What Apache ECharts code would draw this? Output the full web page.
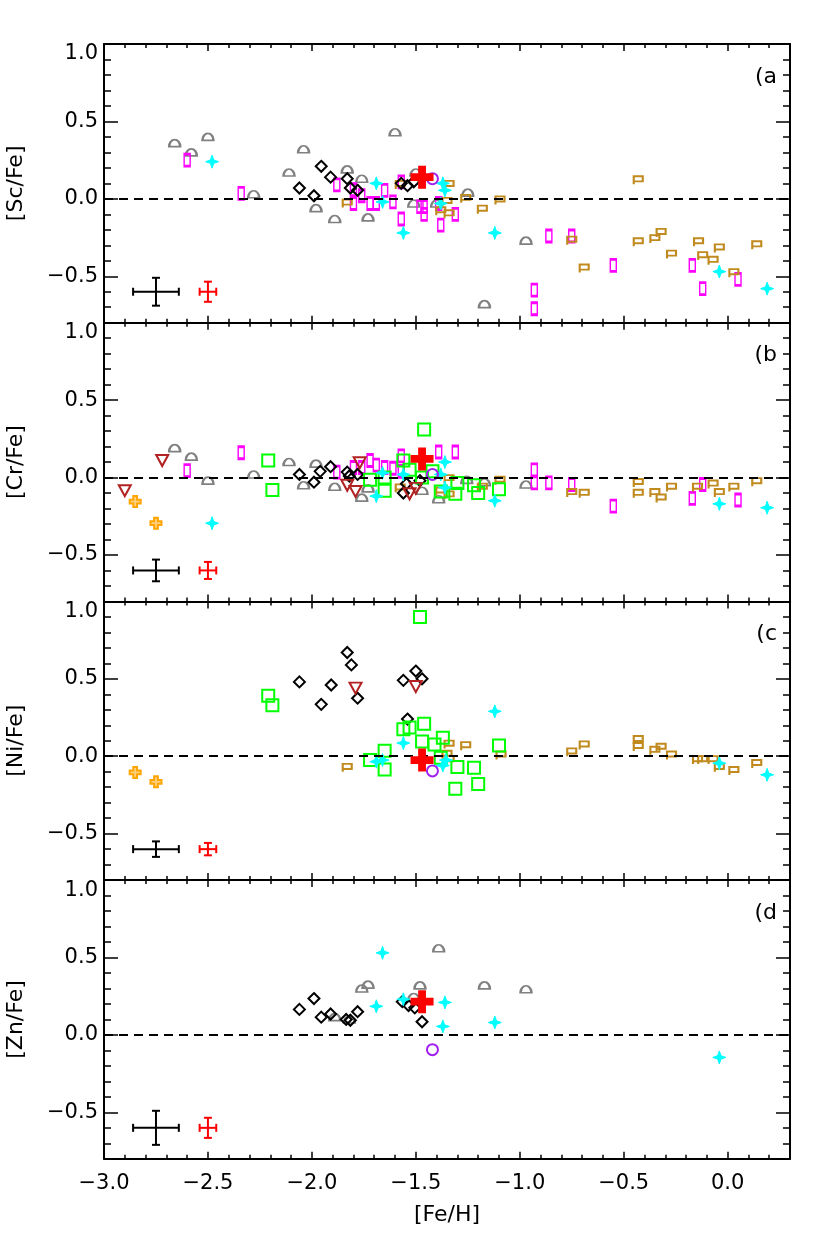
<!DOCTYPE html>
<html>
<head>
<meta charset="utf-8">
<style>
html, body { margin: 0; padding: 0; background: #fff; }
#chart { width: 830px; height: 1247px; }
</style>
<script src="https://cdn.jsdelivr.net/npm/echarts@6/dist/echarts.min.js"></script>
</head>
<body>
<div id="chart"></div>
<script>
// ---- data ----
const panelNames = ['[Sc/Fe]', '[Cr/Fe]', '[Ni/Fe]', '[Zn/Fe]'];
const panelTags = ['(a', '(b', '(c', '(d'];
const xTicks = [-3.0, -2.5, -2.0, -1.5, -1.0, -0.5, 0.0];
const yTicks = [-0.5, 0.0, 0.5, 1.0];

// panel a: [Sc/Fe]
const scHalo = [[-2.66,0.36],[-2.58,0.30],[-2.50,0.40],[-2.28,0.03],[-2.11,0.17],[-2.04,0.32],[-1.98,-0.06],[-1.89,-0.13],[-1.83,0.19],[-1.76,0.13],[-1.73,-0.12],[-1.60,0.43],[-1.50,0.17],[-1.51,-0.03],[-1.40,-0.03],[-1.25,0.04],[-0.97,-0.27],[-1.17,-0.68]];
const scDiamond = [[-2.06,0.07],[-1.99,0.02],[-1.955,0.21],[-1.91,0.14],[-1.83,0.13],[-1.815,0.07],[-1.78,0.055],[-1.57,0.10],[-1.54,0.085],[-1.51,0.11]];
const scThin = [[-2.60,0.25],[-2.34,0.035],[-1.88,0.09],[-1.80,0.06],[-1.80,-0.03],[-1.76,0.02],[-1.72,-0.03],[-1.69,-0.03],[-1.65,0.055],[-1.61,-0.02],[-1.57,-0.13],[-1.57,0.11],[-1.48,-0.05],[-1.46,-0.05],[-1.46,-0.10],[-1.39,-0.03],[-1.38,-0.17],[-1.31,-0.10],[-0.93,-0.59],[-0.93,-0.71],[-0.86,-0.24],[-0.75,-0.24],[-0.55,-0.43],[-0.17,-0.43],[-0.12,-0.58],[0.05,-0.52]];
const scDisk = [[-1.83,-0.03],[-1.575,0.09],[-1.34,0.09],[-1.35,-0.02],[-1.38,-0.08],[-1.34,-0.10],[-1.26,0.0],[-1.18,-0.07],[-1.095,-0.01],[-0.75,-0.27],[-0.69,-0.45],[-0.43,0.12],[-0.43,-0.28],[-0.35,-0.26],[-0.32,-0.22],[-0.27,-0.36],[-0.14,-0.28],[-0.12,-0.37],[-0.07,-0.40],[-0.04,-0.32],[0.03,-0.48],[0.14,-0.30]];
const scStar = [[-2.48,0.24],[-1.69,0.10],[-1.66,-0.02],[-1.56,-0.22],[-1.37,0.10],[-1.36,0.055],[-1.38,-0.03],[-1.12,-0.22],[-0.04,-0.47],[0.19,-0.58]];
const scCircle = [[-1.42,0.13]];
const scTarget = [[-1.47,0.14]];

// panel b: [Cr/Fe]
const crHalo = [[-2.66,0.19],[-2.58,0.135],[-2.50,-0.02],[-2.28,0.02],[-2.11,0.10],[-1.98,0.09],[-2.04,-0.05],[-1.89,-0.06],[-1.76,-0.13],[-1.73,-0.07],[-1.47,-0.085],[-1.39,-0.14],[-1.255,-0.015],[-1.17,-0.03],[-0.97,-0.045]];
const crDiamond = [[-2.06,0.02],[-1.99,-0.03],[-1.96,0.04],[-1.91,0.07],[-1.83,0.035],[-1.82,0.01],[-1.78,0.02],[-1.545,-0.04],[-1.56,-0.10],[-1.48,-0.02]];
const crThin = [[-2.60,0.045],[-2.34,0.16],[-1.88,0.035],[-1.80,0.065],[-1.76,0.065],[-1.72,0.11],[-1.69,0.08],[-1.65,0.065],[-1.61,0.06],[-1.57,0.14],[-1.57,0.04],[-1.39,0.165],[-1.31,0.165],[-0.93,0.05],[-0.93,-0.035],[-0.86,-0.035],[-0.75,-0.045],[-0.55,-0.185],[-0.17,-0.135],[-0.12,-0.045],[0.05,-0.145]];
const crDisk = [[-1.575,-0.07],[-1.38,-0.09],[-1.34,-0.01],[-1.34,-0.115],[-1.18,-0.065],[-1.095,-0.02],[-0.75,-0.10],[-0.69,-0.105],[-0.43,-0.035],[-0.43,-0.105],[-0.35,-0.10],[-0.32,-0.135],[-0.27,-0.065],[-0.145,-0.065],[-0.07,-0.045],[-0.04,-0.10],[0.03,-0.065],[0.14,-0.03]];
const crStar = [[-2.48,-0.295],[-1.69,-0.12],[-1.66,0.03],[-1.56,0.02],[-1.36,0.10],[-1.38,0.02],[-1.36,-0.065],[-1.12,-0.15],[-0.04,-0.17],[0.19,-0.195]];
const crSquare = [[-2.21,0.11],[-2.19,-0.08],[-1.72,-0.015],[-1.65,0.0],[-1.65,-0.085],[-1.56,0.11],[-1.53,0.05],[-1.46,0.31],[-1.47,0.0],[-1.42,0.04],[-1.38,-0.09],[-1.31,-0.105],[-1.30,-0.035],[-1.22,-0.05],[-1.20,-0.10],[-1.10,-0.075]];
const crTriangle = [[-2.90,-0.085],[-2.72,0.11],[-1.83,-0.05],[-1.79,-0.09],[-1.77,0.095],[-1.53,-0.105],[-1.50,-0.07]];
const crCross = [[-2.85,-0.155],[-2.75,-0.295]];
const crCircle = [[-1.42,0.02]];
const crTarget = [[-1.47,0.12]];

// panel c: [Ni/Fe]
const niDiamond = [[-2.06,0.48],[-1.955,0.335],[-1.907,0.46],[-1.83,0.67],[-1.81,0.59],[-1.78,0.375],[-1.56,0.49],[-1.50,0.55],[-1.47,0.50],[-1.54,0.24]];
const niDisk = [[-1.83,-0.075],[-1.34,0.075],[-1.26,0.065],[-1.35,0.01],[-1.34,-0.025],[-1.09,0.005],[-0.75,0.025],[-0.69,0.07],[-0.43,0.105],[-0.43,0.06],[-0.35,0.035],[-0.32,0.055],[-0.27,0.005],[-0.145,-0.025],[-0.12,-0.025],[-0.07,-0.025],[-0.04,-0.075],[0.03,-0.095],[0.14,-0.05]];
const niStar = [[-1.69,-0.035],[-1.66,-0.025],[-1.56,0.085],[-1.37,-0.06],[-1.355,-0.025],[-1.12,0.29],[-0.04,-0.045],[0.19,-0.12]];
const niSquare = [[-2.21,0.39],[-2.19,0.33],[-1.72,-0.025],[-1.65,0.035],[-1.65,-0.085],[-1.56,0.175],[-1.53,0.185],[-1.48,0.90],[-1.46,0.21],[-1.47,0.095],[-1.41,0.075],[-1.37,0.12],[-1.38,-0.01],[-1.30,-0.07],[-1.31,-0.21],[-1.22,-0.075],[-1.20,-0.18],[-1.10,0.07]];
const niTriangle = [[-1.79,0.44],[-1.50,0.45]];
const niCross = [[-2.85,-0.105],[-2.75,-0.165]];
const niCircle = [[-1.42,-0.095]];
const niTarget = [[-1.47,-0.025]];

// panel d: [Zn/Fe]
const znHalo = [[-1.76,0.30],[-1.73,0.325],[-1.89,0.115],[-1.82,0.10],[-1.51,0.245],[-1.48,0.32],[-1.39,0.56],[-1.17,0.32],[-0.97,0.295]];
const znDiamond = [[-2.06,0.165],[-1.99,0.235],[-1.955,0.115],[-1.91,0.135],[-1.835,0.10],[-1.815,0.095],[-1.78,0.15],[-1.565,0.215],[-1.535,0.19],[-1.505,0.175],[-1.47,0.085]];
const znStar = [[-1.66,0.53],[-1.69,0.185],[-1.56,0.23],[-1.36,0.21],[-1.37,0.055],[-1.12,0.08],[-0.04,-0.145]];
const znCircle = [[-1.42,-0.095]];
const znTarget = [[-1.47,0.215]];

// typical error bars, lower left of every panel: [x, y, xErr, yErr]
const errTypical = [[-2.75,-0.6,0.11,0.09],[-2.75,-0.6,0.11,0.07],[-2.75,-0.6,0.11,0.05],[-2.75,-0.6,0.11,0.11]];
const errTarget = [[-2.5,-0.6,0.04,0.065],[-2.5,-0.6,0.04,0.055],[-2.5,-0.6,0.04,0.04],[-2.5,-0.6,0.04,0.065]];

// ---- marker styles ----
const FONT = 'DejaVu Sans';
const DOME = 'path://M0,10 A10,10 0 0 1 20,10 Z';
const FLAG = 'path://M0,0 H10 V7 H0 Z M0,7 V11';
const STAR4 = 'path://M5,0 L6.3,3.7 L10,5 L6.3,6.3 L5,10 L3.7,6.3 L0,5 L3.7,3.7 Z';
const PLUS = 'path://M3.3,0 H6.7 V3.3 H10 V6.7 H6.7 V10 H3.3 V6.7 H0 V3.3 H3.3 Z';
const TRI = 'path://M0,0 H10 L5,9 Z';
const NONE = 'rgba(0,0,0,0)';

const styles = {
  halo:     { symbol: DOME, size: [11, 7], stroke: '#808080', fill: NONE, w: 2 },
  thin:     { symbol: 'rect', size: [6, 12], stroke: '#ff00ff', fill: NONE, w: 2 },
  disk:     { symbol: FLAG, size: [9, 8], stroke: '#c08a1e', fill: NONE, w: 2 },
  diamond:  { symbol: 'diamond', size: [11, 11], stroke: '#000000', fill: NONE, w: 2 },
  square:   { symbol: 'rect', size: [12, 12], stroke: '#00ff00', fill: NONE, w: 2 },
  triangle: { symbol: TRI, size: [12, 11], stroke: '#b22222', fill: NONE, w: 2 },
  star:     { symbol: STAR4, size: [13, 13], stroke: '#00ffff', fill: '#00ffff', w: 1 },
  cross:    { symbol: PLUS, size: [11, 11], stroke: '#ffa500', fill: '#ffd080', w: 2 },
  circle:   { symbol: 'circle', size: [11, 11], stroke: '#a020f0', fill: NONE, w: 2 },
  target:   { symbol: PLUS, size: [23, 23], stroke: '#ff0000', fill: '#ff0000', w: 0 }
};

const panels = [
  [['halo', scHalo], ['thin', scThin], ['disk', scDisk], ['diamond', scDiamond], ['star', scStar], ['circle', scCircle], ['target', scTarget]],
  [['halo', crHalo], ['thin', crThin], ['disk', crDisk], ['diamond', crDiamond], ['square', crSquare], ['triangle', crTriangle], ['star', crStar], ['cross', crCross], ['circle', crCircle], ['target', crTarget]],
  [['disk', niDisk], ['diamond', niDiamond], ['square', niSquare], ['triangle', niTriangle], ['star', niStar], ['cross', niCross], ['circle', niCircle], ['target', niTarget]],
  [['halo', znHalo], ['diamond', znDiamond], ['star', znStar], ['circle', znCircle], ['target', znTarget]]
];

// ---- layout ----
const gridTop = 44, gridH = 278.7, gridLeft = 104, gridRight = 40;
const fmt = v => (v < -1e-9 ? '\u2212' : '') + Math.abs(v).toFixed(1);

const grids = [], xAxes = [], yAxes = [], series = [], graphics = [];

function axisBase(extra) {
  return Object.assign({
    type: 'value',
    axisLine: { show: true, onZero: false, lineStyle: { color: '#000', width: 2 } },
    splitLine: { show: false },
    axisLabel: { show: false }
  }, extra);
}

function renderErr(params, api) {
  const x = api.value(0), y = api.value(1), ex = api.value(2), ey = api.value(3);
  const c = api.coord([x, y]);
  const l = api.coord([x - ex, y]), r = api.coord([x + ex, y]);
  const t = api.coord([x, y + ey]), b = api.coord([x, y - ey]);
  const cap = 4;
  const style = { stroke: api.visual('color'), lineWidth: 2 };
  const ln = (x1, y1, x2, y2) => ({ type: 'line', shape: { x1, y1, x2, y2 }, style });
  return {
    type: 'group',
    children: [
      ln(l[0], c[1], r[0], c[1]),
      ln(c[0], t[1], c[0], b[1]),
      ln(l[0], c[1] - cap, l[0], c[1] + cap),
      ln(r[0], c[1] - cap, r[0], c[1] + cap),
      ln(c[0] - cap, t[1], c[0] + cap, t[1]),
      ln(c[0] - cap, b[1], c[0] + cap, b[1])
    ]
  };
}

panels.forEach((groups, i) => {
  const top = gridTop + i * gridH;
  grids.push({ left: gridLeft, right: gridRight, top: top, height: gridH, containLabel: false, outerBoundsMode: 'none' });
  const last = i === panels.length - 1;

  ['bottom', 'top'].forEach(pos => {
    // minor ticks every 0.1
    xAxes.push(axisBase({
      gridIndex: i, position: pos, min: -3.0, max: 0.3, interval: 0.1,
      axisTick: { show: true, inside: true, length: 4, lineStyle: { color: '#000', width: 1.5 } }
    }));
    // major ticks and labels
    xAxes.push(axisBase({
      gridIndex: i, position: pos, min: -3.0, max: 0.3,
      axisLine: { show: false, onZero: false },
      axisTick: { show: true, inside: true, length: 7, customValues: xTicks, lineStyle: { color: '#000', width: 1.5 } },
      axisLabel: {
        show: last && pos === 'bottom', customValues: xTicks, formatter: fmt,
        margin: 14, color: '#000', fontSize: 21, fontFamily: FONT
      },
      name: last && pos === 'bottom' ? '[Fe/H]' : '',
      nameLocation: 'middle', nameGap: 45,
      nameTextStyle: { color: '#000', fontSize: 22, fontFamily: FONT }
    }));
  });

  ['left', 'right'].forEach(pos => {
    yAxes.push(axisBase({
      gridIndex: i, position: pos, min: -0.8, max: 1.0, interval: 0.1,
      axisTick: { show: true, inside: true, length: 7, lineStyle: { color: '#000', width: 1.5 } }
    }));
    yAxes.push(axisBase({
      gridIndex: i, position: pos, min: -0.8, max: 1.0,
      axisLine: { show: false, onZero: false },
      axisTick: { show: true, inside: true, length: 14, customValues: yTicks, lineStyle: { color: '#000', width: 1.5 } },
      axisLabel: {
        show: pos === 'left', customValues: yTicks, margin: 6,
        color: '#000', fontSize: 21, fontFamily: FONT,
        formatter: v => Math.abs(v - 1) < 1e-9 ? '{t|' + fmt(v) + '}' : fmt(v),
        rich: { t: { padding: [20, 0, 0, 0], fontSize: 21, fontFamily: FONT, color: '#000' } }
      },
      name: pos === 'left' ? panelNames[i] : '',
      nameLocation: 'middle', nameRotate: 90, nameGap: 77,
      nameTextStyle: { color: '#000', fontSize: 22, fontFamily: FONT }
    }));
  });

  const xi = i * 4 + 1, yi = i * 4 + 1;

  groups.forEach(([kind, data], k) => {
    const s = styles[kind];
    const item = {
      type: 'scatter', name: kind, xAxisIndex: xi, yAxisIndex: yi, data: data,
      symbol: s.symbol, symbolSize: s.size,
      itemStyle: { color: s.fill, borderColor: s.stroke, borderWidth: s.w, opacity: 1 },
      emphasis: { disabled: true },
      z: kind === 'target' ? 10 : 2 + k * 0.1,
      silent: true
    };
    if (k === 0) {
      item.markLine = {
        silent: true, symbol: 'none', label: { show: false },
        lineStyle: { type: [9, 6], color: '#000', width: 2 },
        data: [{ yAxis: 0 }]
      };
    }
    series.push(item);
  });

  [[errTypical[i], '#000'], [errTarget[i], '#ff0000']].forEach(([e, col]) => {
    series.push({
      type: 'custom', xAxisIndex: xi, yAxisIndex: yi, data: [e],
      renderItem: renderErr, itemStyle: { color: col }, silent: true, z: 5
    });
  });

  graphics.push({
    type: 'text', x: 777, y: top + 33, z: 20,
    style: { text: panelTags[i], align: 'right', verticalAlign: 'middle', font: '22px ' + FONT, fill: '#000' }
  });
});

const chart = echarts.init(document.getElementById('chart'));
chart.setOption({
  animation: false,
  backgroundColor: '#fff',
  grid: grids,
  xAxis: xAxes,
  yAxis: yAxes,
  series: series,
  graphic: graphics
});
</script>
</body>
</html>
